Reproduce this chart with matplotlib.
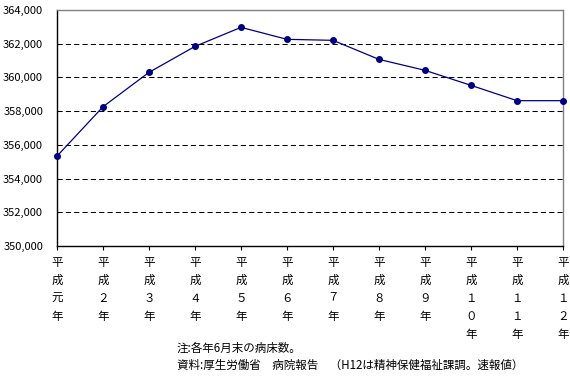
import matplotlib
matplotlib.use("Agg")
import matplotlib.pyplot as plt
from matplotlib.ticker import FuncFormatter

plt.rcParams['font.family'] = ['Noto Sans CJK JP', 'DejaVu Sans']

# data
years = ["平成元年", "平成２年", "平成３年", "平成４年", "平成５年", "平成６年",
         "平成７年", "平成８年", "平成９年", "平成１０年", "平成１１年", "平成１２年"]
beds = [355330, 358260, 360300, 361840, 362970, 362260,
        362200, 361070, 360420, 359530, 358620, 358620]
yticks = [350000, 352000, 354000, 356000, 358000, 360000, 362000, 364000]
notes = ["注:各年6月末の病床数。",
         "資料:厚生労働省　病院報告　（H12は精神保健福祉課調。速報値）"]

fig = plt.figure(figsize=(5.7, 3.77), dpi=100)
ax = fig.add_axes([0.1, 0.3475, 0.8877, 0.626])

x = list(range(len(beds)))
ax.plot(x, beds, color="#000080", lw=0.9, marker="o", ms=4,
        markerfacecolor="#000080", markeredgecolor="#000080", clip_on=False, zorder=3)

ax.set_xlim(0, len(beds) - 1)
ax.set_ylim(350000, 364000)
ax.set_yticks(yticks)
ax.yaxis.set_major_formatter(FuncFormatter(lambda v, p: f"{int(v):,}"))

# dashed gridlines (not at the frame edges)
for v in yticks[1:-1]:
    ax.axhline(v, color="black", lw=0.75, linestyle=(0, (5, 3)), zorder=1)

ax.set_xticks(x)
ax.set_xticklabels(["\n".join(s) for s in years], linespacing=1.5)
ax.tick_params(axis="x", length=3, width=0.8, pad=4, labelsize=8.3, direction="out")
ax.tick_params(axis="y", length=0, pad=10, labelsize=8)

for side in ["left", "bottom"]:
    ax.spines[side].set_color("black")
    ax.spines[side].set_linewidth(1.0)
for side in ["top", "right"]:
    ax.spines[side].set_color("#808080")
    ax.spines[side].set_linewidth(1.0)

fig.text(177 / 570, 1 - 348 / 377, notes[0], fontsize=8.3, va="center", ha="left")
fig.text(177 / 570, 1 - 365 / 377, notes[1], fontsize=8.3, va="center", ha="left")

fig.savefig("out.png", dpi=100)
